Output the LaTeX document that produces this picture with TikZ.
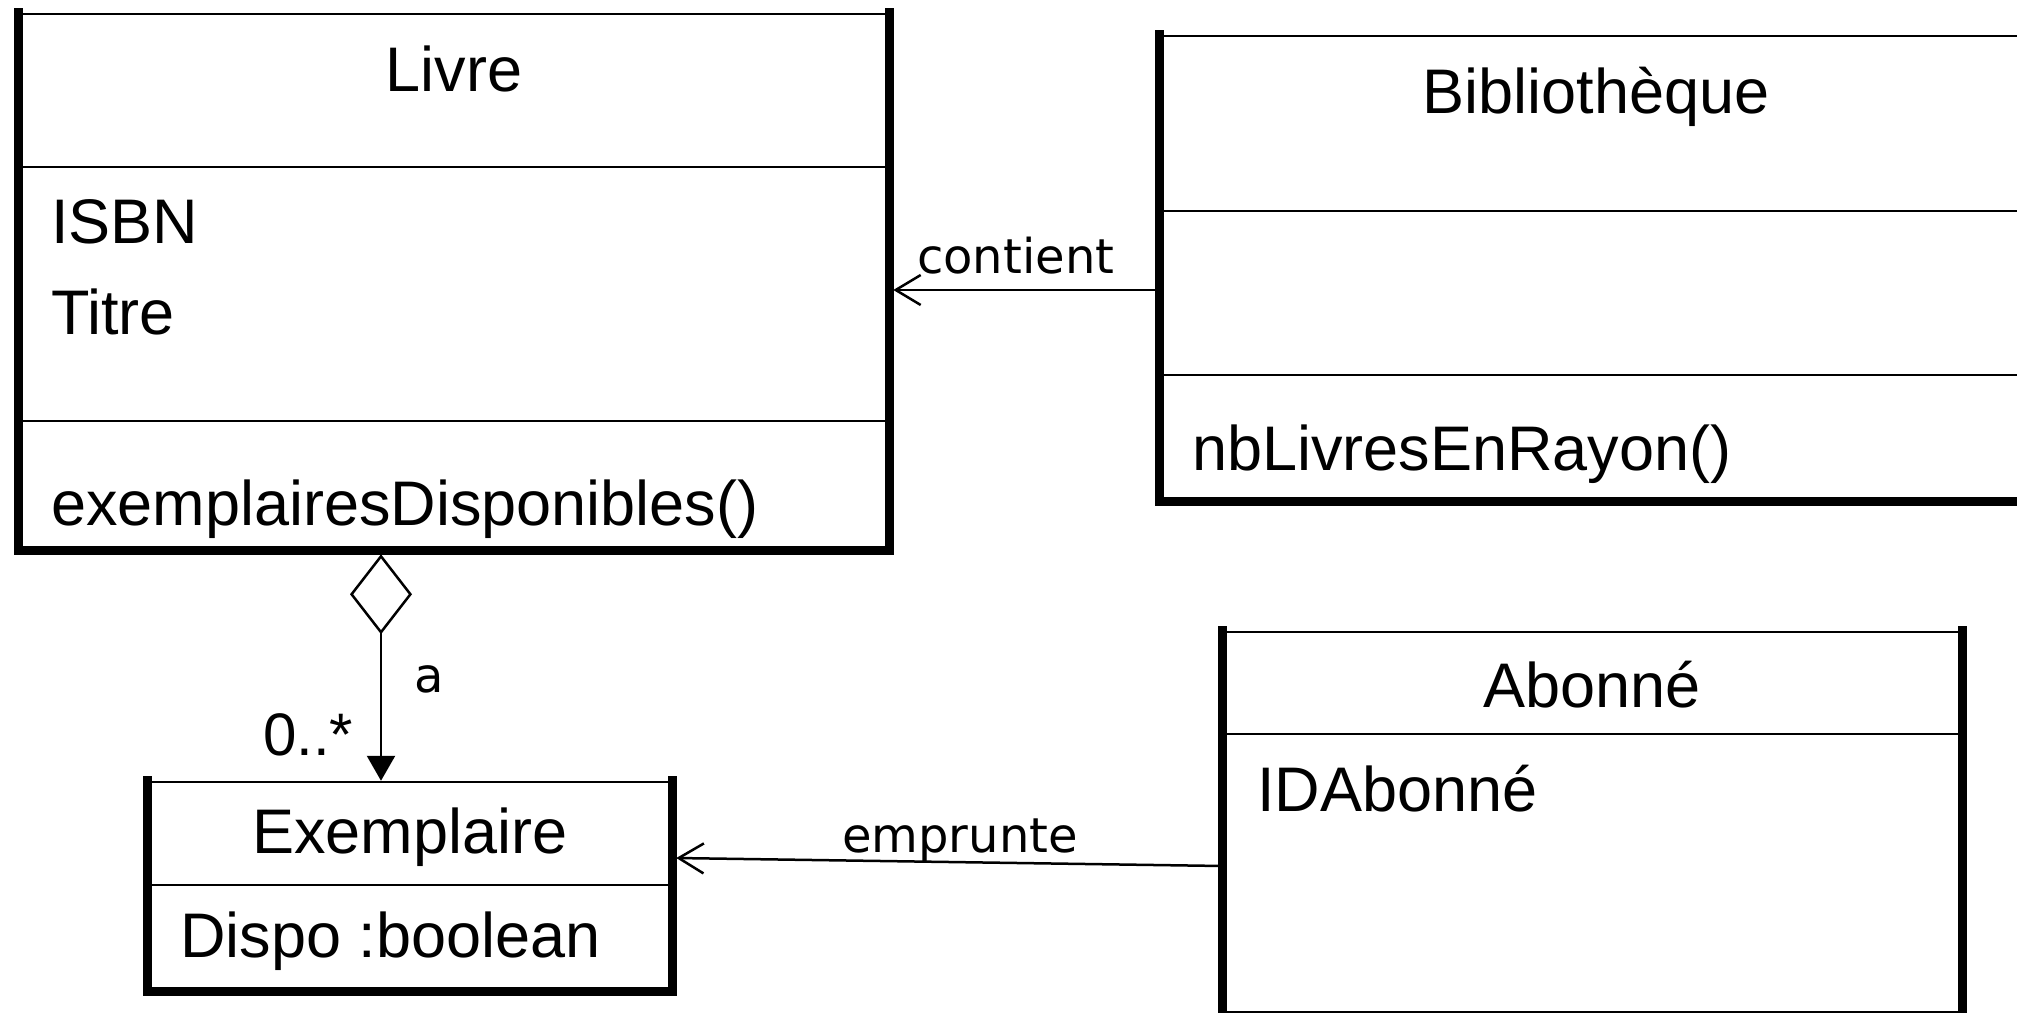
\documentclass[tikz,border=0pt]{standalone}
\usepackage{fontspec}
\setmainfont{Liberation Sans}
\newfontfamily\labelfont{DejaVu Sans}
\usetikzlibrary{arrows.meta}
\tikzset{
  classbox/.style={draw, line width=2.5pt, inner sep=0pt},
  heavy/.style={line width=9pt, line cap=rect},
  divider/.style={line width=2.5pt},
  cname/.style={font=\fontsize{63}{76}\selectfont, anchor=base, inner sep=0pt},
  cattr/.style={font=\fontsize{63}{76}\selectfont, anchor=base west, inner sep=0pt},
  mult/.style={font=\fontsize{60}{72}\selectfont, anchor=base west, inner sep=0pt},
  alabel/.style={font=\labelfont\fontsize{48}{58}\selectfont, anchor=base west, inner sep=0pt},
  assoc/.style={line width=2.5pt},
  openarrow/.style={-{Straight Barb[length=25pt,width=30pt]}},
}
\begin{document}
\begin{tikzpicture}[x=1pt,y=-1pt]
\useasboundingbox (0,0) rectangle (2017,1012);
\clip (0,0) rectangle (2017,1012);
\fill[white] (0,0) rectangle (2017,1012);

% Livre
\node[classbox, minimum width=868pt, minimum height=535pt] (livre) at (454,281.5) {};
\draw[heavy] (livre.north west) -- (livre.south west) -- (livre.south east) -- (livre.north east);
\draw[divider] ([yshift=-154pt]livre.north west) -- ([yshift=-154pt]livre.north east);
\draw[divider] ([yshift=-408pt]livre.north west) -- ([yshift=-408pt]livre.north east);
\node[cname] (livreN) at (454,91) {Livre};
\node[cattr] (isbn) at (51,243) {ISBN};
\node[cattr] (titre) at (51,334) {Titre};
\node[cattr] (expdispo) at (51,525) {exemplairesDisponibles()};

% Bibliotheque
\node[classbox, minimum width=870pt, minimum height=464pt] (biblio) at (1596,268) {};
\draw[heavy] (biblio.north west) -- (biblio.south west) -- (biblio.south east) -- (biblio.north east);
\draw[divider] ([yshift=-176pt]biblio.north west) -- ([yshift=-176pt]biblio.north east);
\draw[divider] ([yshift=-340pt]biblio.north west) -- ([yshift=-340pt]biblio.north east);
\node[cname] (biblioN) at (1596,113) {Bibliothèque};
\node[cattr] (nblivres) at (1192,470) {nbLivresEnRayon()};

% Exemplaire
\node[classbox, minimum width=522pt, minimum height=208pt] (exemplaire) at (410,886) {};
\draw[heavy] (exemplaire.north west) -- (exemplaire.south west) -- (exemplaire.south east) -- (exemplaire.north east);
\draw[divider] ([yshift=-104pt]exemplaire.north west) -- ([yshift=-104pt]exemplaire.north east);
\node[cname] (exemplaireN) at (410,853) {Exemplaire};
\node[cattr] (dispo) at (180,957) {Dispo :boolean};

% Abonne
\node[classbox, minimum width=737pt, minimum height=382pt] (abonne) at (1592.5,823) {};
\draw[heavy] (abonne.north west) -- (abonne.south west) -- (abonne.south east) -- (abonne.north east);
\draw[divider] ([yshift=-103pt]abonne.north west) -- ([yshift=-103pt]abonne.north east);
\node[cname] (abonneN) at (1592,707) {Abonné};
\node[cattr] (idabonne) at (1257,811) {IDAbonné};

% contient
\coordinate (yc) at (0,290);
\draw[assoc, openarrow] (biblio.west |- yc) -- ([xshift=4pt]livre.east |- yc);
\node[alabel] (lcontient) at (917,273) {contient};

% emprunte
\coordinate (ye1) at (0,866);
\coordinate (ye2) at (0,858);
\draw[assoc, openarrow] (abonne.west |- ye1) -- ([xshift=4pt]exemplaire.east |- ye2);
\node[alabel] (lemprunte) at (842,852) {emprunte};

% aggregation a
\coordinate (xa) at (381,0);
\coordinate (aggtop) at ([yshift=-4pt]livre.south);
\draw[assoc, {Diamond[open,length=80pt,width=62pt]}-{Triangle[length=25pt,width=28pt]}] (aggtop -| xa) -- (exemplaire.north -| xa);
\node[alabel] (la) at (414,692) {a};
\node[mult] (lmult) at (263,755) {0..*};
\end{tikzpicture}
\end{document}
